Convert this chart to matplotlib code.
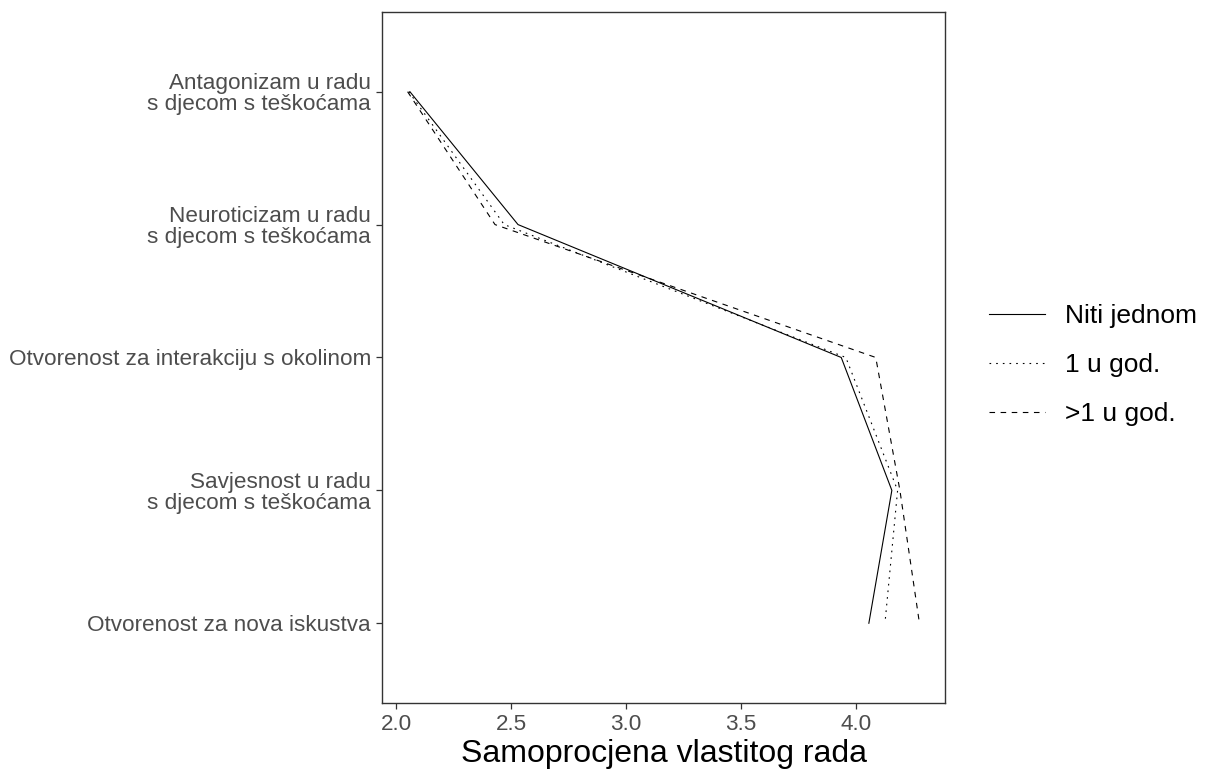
import matplotlib
matplotlib.use("Agg")
import matplotlib.pyplot as plt

plt.rcParams['font.family'] = ['Liberation Sans', 'DejaVu Sans']

categories = [
    "Antagonizam u radu\ns djecom s teškoćama",
    "Neuroticizam u radu\ns djecom s teškoćama",
    "Otvorenost za interakciju s okolinom",
    "Savjesnost u radu\ns djecom s teškoćama",
    "Otvorenost za nova iskustva",
]
niti_jednom = [2.06, 2.53, 3.935, 4.155, 4.055]
jednom_god = [2.055, 2.47, 3.955, 4.18, 4.125]
vise_god = [2.05, 2.43, 4.085, 4.19, 4.275]
series_names = ["Niti jednom", "1 u god.", ">1 u god."]

fig = plt.figure(figsize=(12.24, 7.72), dpi=100)
ax = fig.add_axes([0.3121, 0.0894, 0.4600, 0.8951])

ypos = list(range(len(categories)))
styles = ["-", (0, (1.5, 4.5)), (0, (5, 5))]
for vals, name, ls in zip([niti_jednom, jednom_god, vise_god], series_names, styles):
    ax.plot(vals, ypos, color="black", linewidth=0.8, linestyle=ls, label=name)

allv = niti_jednom + jednom_god + vise_god
lo, hi = min(allv), max(allv)
pad = (hi - lo) * 0.05
ax.set_xlim(lo - pad, hi + pad)
ax.set_ylim(len(categories) - 0.4, -0.6)
ax.set_xticks([2.0, 2.5, 3.0, 3.5, 4.0])
ax.set_xticklabels(["2.0", "2.5", "3.0", "3.5", "4.0"])
ax.set_yticks(ypos)
ax.set_yticklabels(categories, linespacing=1.0)

ax.tick_params(axis="both", colors="#333333", length=4, width=0.9,
               labelsize=16.2, labelcolor="#4D4D4D", pad=4)
for sp in ax.spines.values():
    sp.set_color("#333333")
    sp.set_linewidth(1.0)

ax.set_xlabel("Samoprocjena vlastitog rada", fontsize=23, color="black", labelpad=3)

fig.legend(loc="center left", bbox_to_anchor=(0.789, 0.527), frameon=False,
           fontsize=19, handlelength=2.1, handletextpad=0.75, labelspacing=0.95)

fig.savefig("out.png", dpi=100)
